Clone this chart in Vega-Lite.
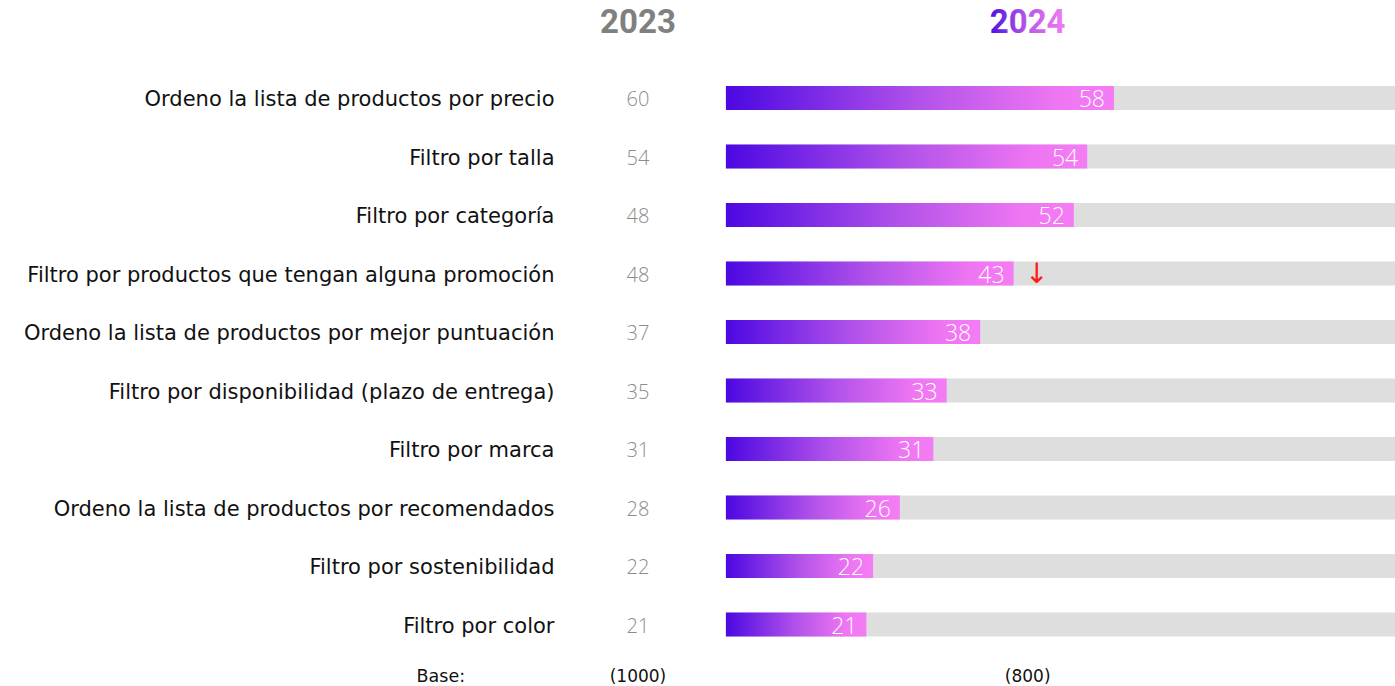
{
  "$schema": "https://vega.github.io/schema/vega-lite/v6.json",
  "autosize": {"type": "none"},
  "width": 825,
  "height": 585,
  "padding": {"left": 570, "top": 68.75, "right": 0, "bottom": 32.25},
  "background": "white",
  "config": {"view": {"stroke": null}, "font": "DejaVu Sans"},
  "data": {
    "values": [
      {"item": "Ordeno la lista de productos por precio", "y2023": 60, "y2024": 58, "total": 100, "flag": ""},
      {"item": "Filtro por talla", "y2023": 54, "y2024": 54, "total": 100, "flag": ""},
      {"item": "Filtro por categoría", "y2023": 48, "y2024": 52, "total": 100, "flag": ""},
      {"item": "Filtro por productos que tengan alguna promoción", "y2023": 48, "y2024": 43, "total": 100, "flag": "↓"},
      {"item": "Ordeno la lista de productos por mejor puntuación", "y2023": 37, "y2024": 38, "total": 100, "flag": ""},
      {"item": "Filtro por disponibilidad (plazo de entrega)", "y2023": 35, "y2024": 33, "total": 100, "flag": ""},
      {"item": "Filtro por marca", "y2023": 31, "y2024": 31, "total": 100, "flag": ""},
      {"item": "Ordeno la lista de productos por recomendados", "y2023": 28, "y2024": 26, "total": 100, "flag": ""},
      {"item": "Filtro por sostenibilidad", "y2023": 22, "y2024": 22, "total": 100, "flag": ""},
      {"item": "Filtro por color", "y2023": 21, "y2024": 21, "total": 100, "flag": ""}
    ]
  },
  "layer": [
    {
      "mark": {"type": "bar", "height": 24, "color": "#dedede"},
      "encoding": {
        "y": {
          "field": "item", "type": "nominal", "sort": null, "title": null,
          "axis": {"domain": false, "ticks": false, "labelFontSize": 21, "labelColor": "#111111", "labelPadding": 16, "labelOffset": 2, "labelFont": "DejaVu Sans", "labelLimit": 0}
        },
        "x": {"field": "total", "type": "quantitative", "scale": {"domain": [-23.3, 100], "nice": false, "zero": false}, "axis": null},
        "x2": {"datum": 0}
      }
    },
    {
      "mark": {"type": "bar", "height": 24,
        "fill": {"gradient": "linear", "x1": 0, "y1": 0, "x2": 1, "y2": 0,
          "stops": [{"offset": 0, "color": "#4c08e2"}, {"offset": 0.5, "color": "#b252ea"}, {"offset": 0.85, "color": "#ee76f2"}, {"offset": 1, "color": "#f47cf4"}]}},
      "encoding": {
        "y": {"field": "item", "type": "nominal", "sort": null},
        "x": {"field": "y2024", "type": "quantitative"},
        "x2": {"datum": 0}
      }
    },
    {
      "mark": {"type": "text", "align": "right", "baseline": "middle", "dx": -9, "dy": 2, "fontSize": 23, "fontWeight": 300, "color": "white", "font": "Open Sans"},
      "encoding": {
        "y": {"field": "item", "type": "nominal", "sort": null},
        "x": {"field": "y2024", "type": "quantitative"},
        "text": {"field": "y2024", "type": "quantitative"}
      }
    },
    {
      "mark": {"type": "text", "align": "center", "baseline": "middle", "dx": 23, "dy": 1, "fontSize": 28, "color": "#ff1a1a", "font": "DejaVu Sans"},
      "encoding": {
        "y": {"field": "item", "type": "nominal", "sort": null},
        "x": {"field": "y2024", "type": "quantitative"},
        "text": {"field": "flag", "type": "nominal"}
      }
    },
    {
      "mark": {"type": "text", "align": "center", "baseline": "middle", "dy": 2, "fontSize": 20, "fontWeight": 300, "color": "#8c8c8c", "font": "Open Sans"},
      "encoding": {
        "y": {"field": "item", "type": "nominal", "sort": null},
        "x": {"datum": -13.14, "type": "quantitative"},
        "text": {"field": "y2023", "type": "quantitative"}
      }
    },
    {
      "data": {"values": [{"label": "2023", "row": "Ordeno la lista de productos por precio"}]},
      "mark": {"type": "text", "align": "center", "baseline": "middle", "dy": -75, "fontSize": 33, "fontWeight": "bold", "color": "#808080", "font": "Roboto"},
      "encoding": {
        "x": {"datum": -13.14, "type": "quantitative"},
        "y": {"field": "row", "type": "nominal", "sort": null},
        "text": {"field": "label", "type": "nominal"}
      }
    },
    {
      "data": {"values": [{"label": "2024", "row": "Ordeno la lista de productos por precio"}]},
      "mark": {"type": "text", "align": "center", "baseline": "middle", "dy": -75, "fontSize": 33, "fontWeight": "bold", "font": "Roboto",
        "fill": {"gradient": "linear", "x1": 0, "y1": 0, "x2": 1, "y2": 0,
          "stops": [{"offset": 0, "color": "#5010e0"}, {"offset": 0.5, "color": "#b85ae8"}, {"offset": 1, "color": "#f47cf4"}]}},
      "encoding": {
        "x": {"datum": 45.1, "type": "quantitative"},
        "y": {"field": "row", "type": "nominal", "sort": null},
        "text": {"field": "label", "type": "nominal"}
      }
    },
    {
      "data": {"values": [{"label": "Base:", "row": "Filtro por color"}]},
      "mark": {"type": "text", "align": "center", "baseline": "middle", "dy": 52, "fontSize": 17.5, "color": "#111111", "font": "DejaVu Sans"},
      "encoding": {
        "x": {"datum": -42.6, "type": "quantitative"},
        "y": {"field": "row", "type": "nominal", "sort": null},
        "text": {"field": "label", "type": "nominal"}
      }
    },
    {
      "data": {"values": [{"label": "(1000)", "row": "Filtro por color"}]},
      "mark": {"type": "text", "align": "center", "baseline": "middle", "dy": 52, "fontSize": 17, "color": "#111111", "font": "DejaVu Sans"},
      "encoding": {
        "x": {"datum": -13.14, "type": "quantitative"},
        "y": {"field": "row", "type": "nominal", "sort": null},
        "text": {"field": "label", "type": "nominal"}
      }
    },
    {
      "data": {"values": [{"label": "(800)", "row": "Filtro por color"}]},
      "mark": {"type": "text", "align": "center", "baseline": "middle", "dy": 52, "fontSize": 17, "color": "#111111", "font": "DejaVu Sans"},
      "encoding": {
        "x": {"datum": 45.1, "type": "quantitative"},
        "y": {"field": "row", "type": "nominal", "sort": null},
        "text": {"field": "label", "type": "nominal"}
      }
    }
  ]
}
